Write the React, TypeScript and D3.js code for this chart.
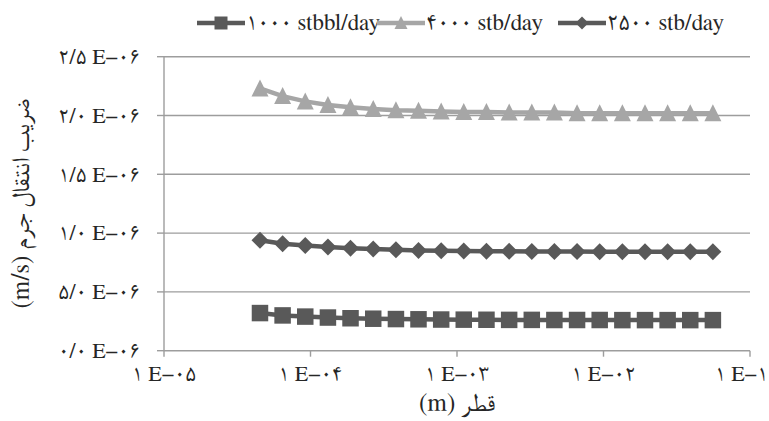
import React from "react";
import * as d3 from "d3";

const diameters = [
  4.52e-5, 6.45e-5, 9.21e-5, 1.315e-4, 1.876e-4, 2.68e-4, 3.83e-4, 5.46e-4, 7.8e-4,
  1.112e-3, 1.589e-3, 2.27e-3, 3.24e-3, 4.62e-3, 6.6e-3, 9.42e-3, 1.345e-2, 1.92e-2,
  2.74e-2, 3.91e-2, 5.58e-2,
];
const k1000 = [
  0.32, 0.3, 0.29, 0.282, 0.276, 0.272, 0.269, 0.267, 0.265, 0.264, 0.263, 0.262, 0.262,
  0.261, 0.261, 0.261, 0.26, 0.26, 0.26, 0.26, 0.26,
].map((v) => v * 1e-6);
const k4000 = [
  2.23, 2.165, 2.12, 2.09, 2.07, 2.055, 2.045, 2.04, 2.035, 2.03, 2.03, 2.025, 2.025, 2.025,
  2.02, 2.02, 2.02, 2.02, 2.02, 2.02, 2.02,
].map((v) => v * 1e-6);
const k2500 = [
  0.94, 0.91, 0.895, 0.882, 0.872, 0.865, 0.858, 0.853, 0.85, 0.848, 0.846, 0.845, 0.844,
  0.843, 0.843, 0.842, 0.842, 0.842, 0.842, 0.842, 0.842,
].map((v) => v * 1e-6);

const seriesNames = ["۱۰۰۰ stbbl/day", "۴۰۰۰ stb/day", "۲۵۰۰ stb/day"];
const yTickValues = [0, 0.5e-6, 1.0e-6, 1.5e-6, 2.0e-6, 2.5e-6];
const yTickLabels = ["۰/۰ E−۰۶", "۵/۰ E−۰۶", "۱/۰ E−۰۶", "۱/۵ E−۰۶", "۲/۰ E−۰۶", "۲/۵ E−۰۶"];
const xTickValues = [1e-5, 1e-4, 1e-3, 1e-2, 1e-1];
const xTickLabels = ["۱ E−۰۵", "۱ E−۰۴", "۱ E−۰۳", "۱ E−۰۲", "۱ E−۱"];
const yTitle = "ضریب انتقال جرم (m/s)";
const xTitle = "قطر (m)";

const FONT = "FreeSerif, 'Liberation Serif', serif";
const DARK = "#595959";
const LIGHT = "#a6a6a6";
const GRID = "#9d9d9d";
const TEXT = "#262626";

function markerPath(shape: string, s: number) {
  const h = s / 2;
  if (shape === "square") return `M${-h},${-h}H${h}V${h}H${-h}Z`;
  if (shape === "diamond") return `M0,${-h}L${h},0L0,${h}L${-h},0Z`;
  return `M0,${-h - 0.5}L${h},${h - 0.5}L${-h},${h - 0.5}Z`;
}

const textStyle = { fontFamily: FONT, fontSize: "22px" };
const legendStyle = { fontFamily: FONT, fontSize: "23px" };
const titleStyle = { fontFamily: FONT, fontSize: "25px" };

export default function App() {
  const W = 769;
  const H = 421;
  const left = 164;
  const right = 750;
  const top = 56.7;
  const bottom = 350.7;

  const x = d3.scaleLog().domain([1e-5, 1e-1]).range([left, right]);
  const y = d3.scaleLinear().domain([0, 2.5e-6]).range([bottom, top]);

  const series = [
    { name: seriesNames[0], values: k1000, color: DARK, shape: "square", legendX: 197 },
    { name: seriesNames[1], values: k4000, color: LIGHT, shape: "triangle", legendX: 377 },
    { name: seriesNames[2], values: k2500, color: DARK, shape: "diamond", legendX: 558 },
  ];

  const line = d3
    .line<number>()
    .x((_, i) => x(diameters[i]))
    .y((d) => y(d));

  const legendY = 23;
  const legendLen = 48;

  return (
    <svg
      width={W}
      height={H}
      style={{ position: "absolute", left: 0, top: 0, background: "#fff" }}
    >
      <rect x={0} y={0} width={W} height={H} fill="#fff" />
      {yTickValues.map((v, i) => (
        <g key={"g" + i}>
          {i > 0 && (
            <line x1={left} x2={right} y1={y(v)} y2={y(v)} stroke={GRID} strokeWidth={1.4} />
          )}
          <line x1={left - 7} x2={left} y1={y(v)} y2={y(v)} stroke={GRID} strokeWidth={1.4} />
          <text x={140} y={y(v)} dy="0.33em" textAnchor="end" style={textStyle} fill={TEXT}>
            {yTickLabels[i]}
          </text>
        </g>
      ))}
      <line x1={left} x2={left} y1={top} y2={bottom} stroke={GRID} strokeWidth={1.4} />
      <line x1={left} x2={right} y1={bottom} y2={bottom} stroke={GRID} strokeWidth={1.4} />
      {xTickValues.map((v, i) => {
        const last = i === xTickValues.length - 1;
        return (
          <g key={"x" + i}>
            <line x1={x(v)} x2={x(v)} y1={bottom} y2={bottom + 6} stroke={GRID} strokeWidth={1.4} />
            <text
              x={last ? W - 1 : x(v)}
              y={381}
              textAnchor={last ? "end" : "middle"}
              style={textStyle}
              fill={TEXT}
            >
              {xTickLabels[i]}
            </text>
          </g>
        );
      })}
      {series.map((s) => (
        <g key={s.name}>
          <path d={line(s.values) || ""} fill="none" stroke={s.color} strokeWidth={4.5} />
          {s.values.map((v, i) => (
            <path
              key={i}
              d={markerPath(s.shape, s.shape === "square" ? 16.5 : 17)}
              transform={`translate(${x(diameters[i])},${y(v)})`}
              fill={s.color}
            />
          ))}
        </g>
      ))}
      {series.map((s) => (
        <g key={"l" + s.name}>
          <line
            x1={s.legendX}
            x2={s.legendX + legendLen}
            y1={legendY}
            y2={legendY}
            stroke={s.color}
            strokeWidth={4.5}
          />
          <path
            d={markerPath(s.shape, 13)}
            transform={`translate(${s.legendX + legendLen / 2},${legendY})`}
            fill={s.color}
          />
          <text x={s.legendX + legendLen + 1} y={legendY + 7} style={legendStyle} fill={TEXT}>
            {s.name}
          </text>
        </g>
      ))}
      <text
        transform={`translate(29,${(top + bottom) / 2}) rotate(-90)`}
        textAnchor="middle"
        direction="rtl"
        style={titleStyle}
        fill={TEXT}
      >
        {yTitle}
      </text>
      <text
        x={(left + right) / 2}
        y={411}
        textAnchor="middle"
        direction="rtl"
        style={titleStyle}
        fill={TEXT}
      >
        {xTitle}
      </text>
    </svg>
  );
}
